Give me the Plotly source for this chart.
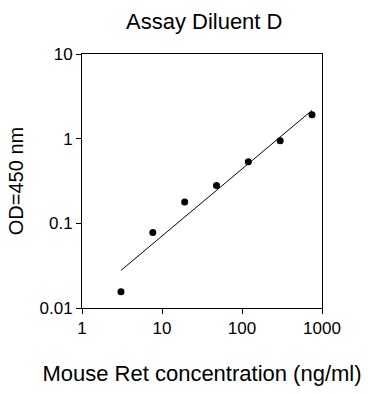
import plotly.graph_objects as go

conc = [3.07, 7.68, 19.2, 48, 120, 300, 750]
od = [0.0156, 0.078, 0.179, 0.28, 0.532, 0.945, 1.91]
fit_x = [3.07, 750]
fit_y = [0.0278, 2.16]

x_ticks = [1, 10, 100, 1000]
y_ticks = [0.01, 0.1, 1, 10]

fig = go.Figure()
fig.add_trace(go.Scatter(x=fit_x, y=fit_y, mode="lines",
                         line=dict(color="black", width=1), showlegend=False))
fig.add_trace(go.Scatter(x=conc, y=od, mode="markers",
                         marker=dict(color="black", size=7), showlegend=False))

font = "Liberation Sans, Arial, sans-serif"
fig.update_layout(
    width=368, height=394,
    margin=dict(l=82, r=46, t=54, b=84),
    paper_bgcolor="white", plot_bgcolor="white",
    font=dict(family=font, color="black", size=17),
    title=dict(text="Assay Diluent D", x=0.555, xanchor="center", y=0.945, yanchor="middle",
               font=dict(size=22)),
    xaxis=dict(type="log", range=[0, 3], tickvals=x_ticks, ticktext=[str(v) for v in x_ticks],
               showline=True, linecolor="black", linewidth=1, mirror=True,
               ticks="outside", ticklen=5, tickcolor="black", showgrid=False, zeroline=False,
               title=dict(text="Mouse Ret concentration (ng/ml)", font=dict(size=22), standoff=28)),
    yaxis=dict(type="log", range=[-2, 1], tickvals=y_ticks, ticktext=["0.01", "0.1", "1", "10"],
               showline=True, linecolor="black", linewidth=1, mirror=True,
               ticks="outside", ticklen=5, tickcolor="black", showgrid=False, zeroline=False,
               title=dict(text="OD=450 nm", font=dict(size=20), standoff=10)),
)
fig.write_html("out.html", config={"displayModeBar": False},
               post_script="document.body.style.margin='0';")
